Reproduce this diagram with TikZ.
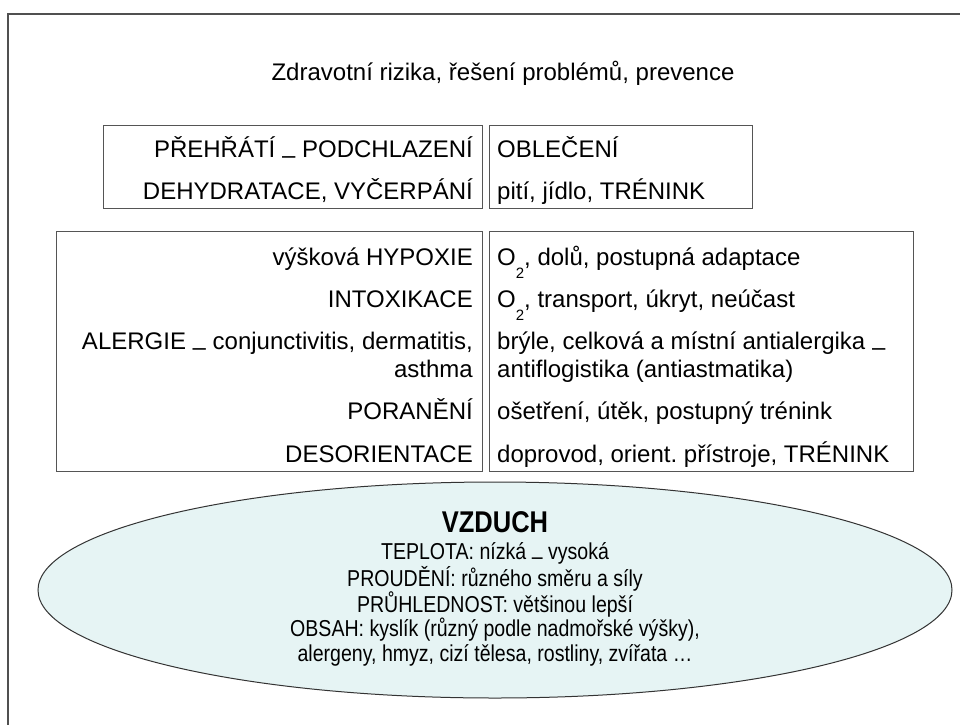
\documentclass[tikz,border=0pt]{standalone}
\usepackage{fontspec}
\setmainfont{Liberation Sans}
\newfontfamily\narrowsans[FakeStretch=0.85]{Liberation Sans}
\usetikzlibrary{shapes.geometric}
\frenchspacing
\definecolor{framegray}{RGB}{80,80,80}
\definecolor{boxgray}{RGB}{85,85,85}
\definecolor{airfill}{RGB}{230,244,244}
\newcommand{\lowdash}{\raisebox{-0.25em}{–}}
\newcommand{\oxy}{O\raisebox{-0.55em}{\fontsize{15}{15}\selectfont 2}}
\tikzset{
  panel/.style={draw=boxgray, line width=1.1pt, inner sep=0pt, anchor=north west},
  txt/.style={font=\fontsize{24}{27}\selectfont, inner sep=0pt},
  lefttxt/.style={txt, anchor=base east},
  righttxt/.style={txt, anchor=base west},
  airtxt/.style={font=\narrowsans\fontsize{23}{24}\selectfont, inner sep=0pt, align=center},
}
\begin{document}
\begin{tikzpicture}[x=1pt, y=-1pt]
\useasboundingbox (0,0) rectangle (960,725);
% outer frame, open towards the right and the bottom
\draw[framegray, line width=1.6pt] (960,14) -- (8,14) -- (8,725);

% title
\node[txt, anchor=base] (title) at (503,80) {Zdravotní rizika, řešení problémů, prevence};

% upper pair of boxes
\node[panel, minimum width=379pt, minimum height=83pt] (boxA) at (103,125) {};
\node[panel, minimum width=263pt, minimum height=83pt] (boxB) at (489,125) {};
\node[lefttxt] (a1) at (473,157) {PŘEHŘÁTÍ \lowdash{} PODCHLAZENÍ};
\node[lefttxt] (a2) at (473,199) {DEHYDRATACE, VYČERPÁNÍ};
\node[righttxt] (b1) at (497,157) {OBLEČENÍ};
\node[righttxt] (b2) at (497,199) {pití, jídlo, TRÉNINK};

% lower pair of boxes (two-line entries are placed by their last baseline)
\node[panel, minimum width=426pt, minimum height=240pt] (boxC) at (56,231) {};
\node[panel, minimum width=424pt, minimum height=240pt] (boxD) at (489,231) {};
\node[lefttxt] (c1) at (473,265) {výšková HYPOXIE};
\node[lefttxt] (c2) at (473,307) {INTOXIKACE};
\node[lefttxt, align=right] (c3) at (473,377) {ALERGIE \lowdash{} conjunctivitis, dermatitis,\\[1pt] asthma};
\node[lefttxt] (c5) at (473,419) {PORANĚNÍ};
\node[lefttxt] (c6) at (473,462) {DESORIENTACE};
\node[righttxt] (d1) at (497,265) {\oxy, dolů, postupná adaptace};
\node[righttxt] (d2) at (497,307) {\oxy, transport, úkryt, neúčast};
\node[righttxt, align=left] (d3) at (497,377) {brýle, celková a místní antialergika \lowdash\\[1pt] antiflogistika (antiastmatika)};
\node[righttxt] (d5) at (497,419) {ošetření, útěk, postupný trénink};
\node[righttxt] (d6) at (497,462) {doprovod, orient. přístroje, TRÉNINK};

% air ellipse
\node[ellipse, draw=black!80, line width=1pt, fill=airfill,
      minimum width=914pt, minimum height=216pt, inner sep=0pt] (air) at (495,590) {};
\node[airtxt, anchor=north] (airtext) at (495,511) {%
  {\bfseries\fontsize{30}{30}\selectfont VZDUCH}\\[3pt]
  TEPLOTA: nízká \lowdash{} vysoká\\
  PROUDĚNÍ: různého směru a síly\\
  PRŮHLEDNOST: většinou lepší\\
  OBSAH: kyslík (různý podle nadmořské výšky),\\[1pt]
  alergeny, hmyz, cizí tělesa, rostliny, zvířata \dots};
\end{tikzpicture}
\end{document}
